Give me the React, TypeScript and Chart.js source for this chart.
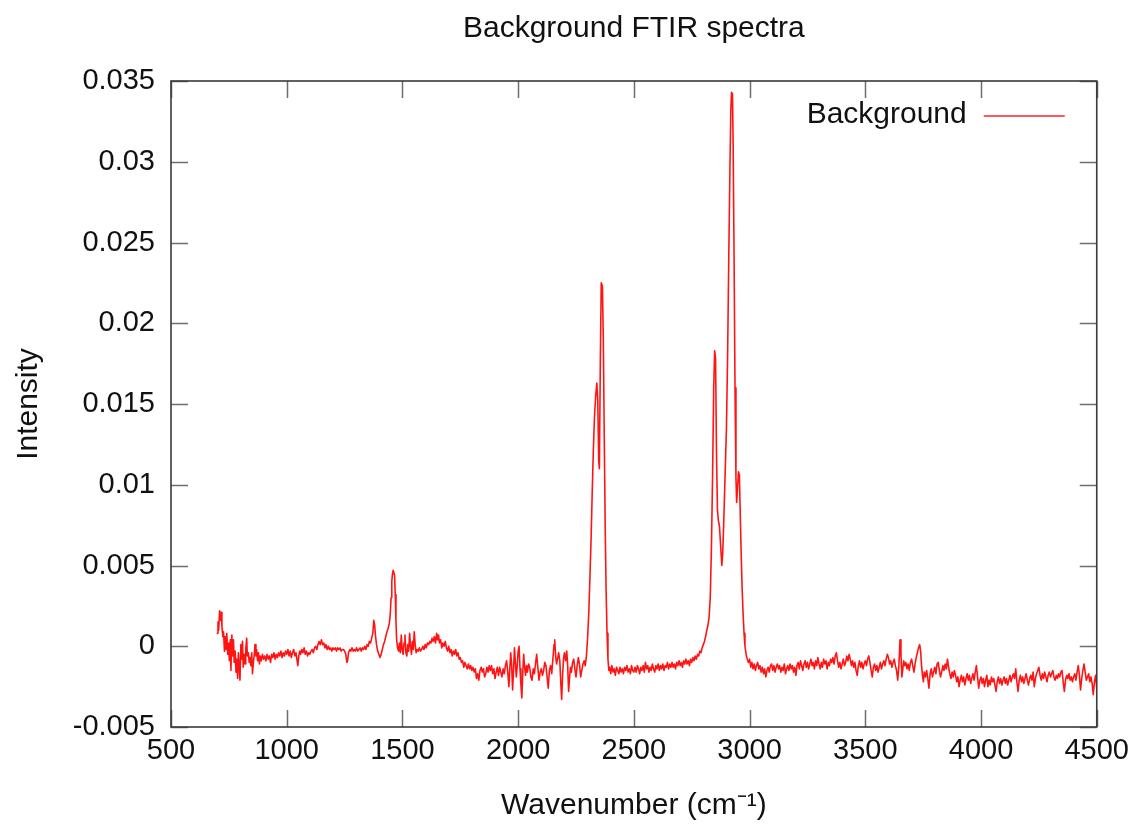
import { useEffect, useRef } from 'react';
import { Chart, registerables } from 'chart.js';

Chart.register(...registerables);

const chartTitle = 'Background FTIR spectra';
const seriesLabel = 'Background';
const xAxisTitle = 'Wavenumber (cm⁻¹)';
const yAxisTitle = 'Intensity';

const xTickValues = [500, 1000, 1500, 2000, 2500, 3000, 3500, 4000, 4500];
const yTickValues = [-0.005, 0, 0.005, 0.01, 0.015, 0.02, 0.025, 0.03, 0.035];
const yTickLabels = ['-0.005', '0', '0.005', '0.01', '0.015', '0.02', '0.025', '0.03', '0.035'];

// [wavenumber (cm-1), intensity]
const backgroundSpectrum: [number, number][] = [
  [700, 0.0008], [703, 0.0015], [706, 0.001], [710, 0.0022], [713, 0.0016], [717, 0.0021], [720, 0.0012],
  [724, 0.0006], [727, 0.0009], [731, -0.0003], [734, 0.0006], [738, -0.0002], [741, 0.0008], [745, -0.0005],
  [749, 0.0002], [752, -0.0009], [756, 0.0004], [759, -0.0015], [763, 0.0007], [766, -0.0006], [770, 0.0004],
  [773, -0.001], [777, -0.0003], [781, -0.0016], [784, -0.0008], [788, -0.002], [791, -0.0004], [795, -0.0013],
  [798, -0.0021], [802, 0.0001], [805, -0.0008], [809, 0.0003], [812, -0.0013], [816, -0.0005], [820, -0.0011],
  [823, -0.0002], [827, 0.0005], [830, -0.0006], [834, -0.0004], [838, -0.001], [841, -0.0007], [845, -0.0012],
  [849, -0.0004], [852, -0.0017], [856, -0.001], [860, -0.0005], [863, 0.0001], [867, -0.0006], [870, -0.0002],
  [874, -0.0009], [878, -0.0004], [882, -0.0011], [886, -0.0006], [890, -0.0009], [895, -0.0005], [900, -0.0008],
  [905, -0.0006], [910, -0.0009], [915, -0.0005], [920, -0.0008], [925, -0.0006], [930, -0.001], [935, -0.0005],
  [940, -0.0007], [945, -0.0004], [950, -0.0008], [955, -0.0005], [960, -0.0007], [965, -0.0004], [970, -0.0006],
  [975, -0.0003], [980, -0.0007], [985, -0.0004], [990, -0.0006], [995, -0.0003], [1000, -0.0005], [1005, -0.0002],
  [1010, -0.0006], [1015, -0.0003], [1020, -0.0007], [1025, -0.0004], [1030, -0.0002], [1035, -0.0006], [1040, -0.0004],
  [1045, -0.0009], [1048, -0.0012], [1052, -0.0006], [1056, -0.0003], [1060, -0.0005], [1065, -0.0002], [1070, -0.0004],
  [1075, -0.0001], [1080, -0.0005], [1085, -0.0003], [1090, -0.0006], [1095, -0.0004], [1100, -0.0005], [1105, -0.0003],
  [1110, -0.0002], [1115, -0.0004], [1120, -0.0001], [1125, 0.0], [1130, -0.0002], [1135, 0.0001], [1140, 0.0003],
  [1145, 0.0001], [1150, 0.0004], [1155, 0.0001], [1160, 0.0002], [1165, -0.0001], [1170, 0.0001], [1175, -0.0002],
  [1180, 0.0], [1185, -0.0002], [1190, -0.0001], [1195, -0.0003], [1200, -0.0001], [1205, -0.0002], [1210, -0.0001],
  [1215, -0.0003], [1220, -0.0001], [1225, -0.0002], [1230, -0.0001], [1235, -0.0003], [1240, -0.0002], [1245, -0.0002],
  [1250, -0.0003], [1255, -0.0005], [1260, -0.001], [1263, -0.0009], [1267, -0.0004], [1272, -0.0002], [1277, -0.0003],
  [1282, -0.0001], [1287, -0.0003], [1292, -0.0002], [1297, -0.0003], [1302, -0.0001], [1307, -0.0003], [1312, -0.0002],
  [1317, -0.0001], [1322, -0.0003], [1327, -0.0001], [1332, -0.0002], [1337, 0.0], [1342, -0.0002], [1347, 0.0001],
  [1352, 0.0], [1357, 0.0003], [1362, 0.0002], [1367, 0.0005], [1372, 0.0008], [1376, 0.0016], [1380, 0.0013],
  [1384, 0.0006], [1388, 0.0001], [1393, -0.0003], [1398, -0.0005], [1403, -0.0007], [1408, -0.0005], [1413, -0.0002],
  [1418, 0.0001], [1423, 0.0003], [1428, 0.0006], [1433, 0.0009], [1438, 0.0011], [1443, 0.0014], [1447, 0.0019],
  [1451, 0.003], [1454, 0.004], [1457, 0.0045], [1460, 0.0047], [1463, 0.0047], [1466, 0.0044], [1469, 0.0032],
  [1472, 0.0016], [1475, 0.0004], [1479, -0.0001], [1483, -0.0003], [1487, 0.0002], [1491, -0.0004], [1495, 0.0007],
  [1499, -0.0002], [1503, -0.0005], [1507, 0.0002], [1511, 0.0007], [1515, -0.0004], [1519, -0.0006], [1523, 0.0001],
  [1527, -0.0003], [1531, 0.0008], [1535, 0.0], [1539, -0.0005], [1543, 0.0003], [1547, -0.0002], [1551, 0.0009],
  [1555, 0.0001], [1559, -0.0004], [1563, -0.0002], [1568, -0.0003], [1573, -0.0001], [1578, -0.0003], [1583, -0.0002],
  [1588, 0.0], [1593, -0.0002], [1598, 0.0001], [1603, -0.0001], [1608, 0.0002], [1613, 0.0001], [1618, 0.0003],
  [1623, 0.0002], [1628, 0.0005], [1633, 0.0003], [1638, 0.0006], [1643, 0.0002], [1648, 0.0008], [1652, 0.0004],
  [1656, 0.0007], [1660, 0.0002], [1665, 0.0004], [1670, -0.0001], [1675, 0.0002], [1680, 0.0], [1685, 0.0003],
  [1690, -0.0001], [1695, -0.0003], [1700, 0.0], [1705, -0.0004], [1710, -0.0002], [1715, -0.0006], [1720, -0.0003],
  [1725, -0.0005], [1730, -0.0002], [1735, -0.0006], [1740, -0.0004], [1745, -0.0008], [1750, -0.0007], [1755, -0.001],
  [1760, -0.0009], [1765, -0.0013], [1770, -0.001], [1775, -0.0012], [1780, -0.0014], [1785, -0.0011], [1790, -0.0014],
  [1795, -0.0012], [1800, -0.0015], [1805, -0.0013], [1810, -0.0016], [1815, -0.0014], [1820, -0.002], [1825, -0.0017],
  [1830, -0.0021], [1835, -0.0015], [1840, -0.0013], [1845, -0.0016], [1850, -0.0014], [1855, -0.0019], [1860, -0.0017],
  [1865, -0.0013], [1870, -0.0016], [1875, -0.0012], [1880, -0.0015], [1885, -0.0012], [1890, -0.0017], [1895, -0.0014],
  [1900, -0.002], [1905, -0.0016], [1910, -0.0013], [1915, -0.0018], [1920, -0.0013], [1925, -0.0016], [1930, -0.0019],
  [1935, -0.0014], [1940, -0.0017], [1945, -0.0012], [1950, -0.0009], [1955, -0.0016], [1960, -0.0025], [1964, -0.0014],
  [1968, -0.0004], [1972, -0.0012], [1976, -0.0027], [1980, -0.0015], [1984, -0.0001], [1988, -0.001], [1992, -0.0019],
  [1996, -0.0012], [2000, -0.0003], [2004, 0.0], [2008, -0.0014], [2012, -0.0024], [2016, -0.0032], [2020, -0.0016],
  [2024, -0.0005], [2028, -0.0013], [2032, -0.0018], [2036, -0.0012], [2040, -0.0016], [2045, -0.0011], [2050, -0.0013],
  [2055, -0.0019], [2060, -0.0021], [2065, -0.0014], [2070, -0.0017], [2075, -0.0011], [2080, -0.0005], [2085, -0.0013],
  [2090, -0.0021], [2095, -0.0016], [2100, -0.0014], [2105, -0.0018], [2110, -0.0015], [2115, -0.001], [2120, -0.0012],
  [2125, -0.0019], [2130, -0.0026], [2135, -0.0015], [2140, -0.0012], [2145, -0.0017], [2150, -0.0008], [2155, 0.0001],
  [2158, 0.0004], [2162, -0.0006], [2166, -0.0011], [2170, -0.0008], [2175, -0.0004], [2180, -0.0009], [2184, -0.0022],
  [2188, -0.0033], [2192, -0.0018], [2196, -0.0008], [2200, -0.0004], [2205, -0.0009], [2210, -0.0003], [2214, -0.0012],
  [2218, -0.0028], [2222, -0.002], [2226, -0.0013], [2230, -0.0016], [2235, -0.001], [2240, -0.0008], [2245, -0.0014],
  [2250, -0.0019], [2255, -0.0012], [2260, -0.0007], [2265, -0.0011], [2270, -0.0019], [2275, -0.0015], [2280, -0.0011],
  [2285, -0.0009], [2290, -0.0012], [2295, -0.0006], [2300, 0.0005], [2305, 0.002], [2310, 0.0042], [2315, 0.0066],
  [2320, 0.0095], [2325, 0.0122], [2330, 0.0143], [2335, 0.0155], [2340, 0.0163], [2344, 0.0152], [2348, 0.0115],
  [2351, 0.011], [2355, 0.0175], [2359, 0.0225], [2364, 0.0223], [2368, 0.019], [2372, 0.013], [2376, 0.0075],
  [2380, 0.0035], [2384, 0.0008], [2388, -0.0008], [2392, -0.0015], [2396, -0.0013], [2400, -0.0017], [2405, -0.0012],
  [2410, -0.0016], [2415, -0.0014], [2420, -0.0018], [2425, -0.0013], [2430, -0.0015], [2435, -0.0017], [2440, -0.0013],
  [2445, -0.0016], [2450, -0.0014], [2455, -0.0017], [2460, -0.0013], [2465, -0.0015], [2470, -0.0012], [2475, -0.0016],
  [2480, -0.0014], [2485, -0.0017], [2490, -0.0012], [2495, -0.0015], [2500, -0.0016], [2505, -0.0013], [2510, -0.0016],
  [2515, -0.0012], [2520, -0.0014], [2525, -0.0017], [2530, -0.0013], [2535, -0.0015], [2540, -0.0012], [2545, -0.0016],
  [2550, -0.001], [2555, -0.0014], [2560, -0.0012], [2565, -0.0016], [2570, -0.0013], [2575, -0.0015], [2580, -0.0011],
  [2585, -0.0014], [2590, -0.0016], [2595, -0.0012], [2600, -0.0014], [2605, -0.0011], [2610, -0.0015], [2615, -0.0012],
  [2620, -0.0014], [2625, -0.0011], [2630, -0.0015], [2635, -0.0012], [2640, -0.0013], [2645, -0.001], [2650, -0.0014],
  [2655, -0.0011], [2660, -0.0013], [2665, -0.001], [2670, -0.0013], [2675, -0.0011], [2680, -0.0014], [2685, -0.001],
  [2690, -0.0012], [2695, -0.0009], [2700, -0.0012], [2705, -0.001], [2710, -0.0013], [2715, -0.0009], [2720, -0.0011],
  [2725, -0.0008], [2730, -0.0011], [2735, -0.0009], [2740, -0.0012], [2745, -0.0008], [2750, -0.001], [2755, -0.0007],
  [2760, -0.0009], [2765, -0.0006], [2770, -0.0008], [2775, -0.0005], [2780, -0.0006], [2785, -0.0003], [2790, -0.0004],
  [2795, -0.0001], [2800, 0.0001], [2805, 0.0003], [2810, 0.0006], [2815, 0.001], [2820, 0.0013], [2825, 0.0018],
  [2830, 0.003], [2835, 0.006], [2840, 0.0105], [2845, 0.016], [2849, 0.0183], [2853, 0.0178], [2857, 0.012],
  [2861, 0.0085], [2865, 0.0078], [2870, 0.0074], [2875, 0.0062], [2880, 0.005], [2884, 0.0058], [2888, 0.0075],
  [2892, 0.0095], [2896, 0.0115], [2900, 0.0135], [2905, 0.018], [2910, 0.024], [2915, 0.0295], [2919, 0.0332],
  [2922, 0.0343], [2926, 0.0342], [2929, 0.031], [2933, 0.024], [2937, 0.016], [2941, 0.0105], [2944, 0.0089],
  [2948, 0.0098], [2952, 0.0108], [2956, 0.0106], [2960, 0.008], [2964, 0.0055], [2968, 0.0035], [2972, 0.002],
  [2976, 0.0008], [2980, 0.0], [2985, -0.0005], [2990, -0.0008], [2995, -0.001], [3000, -0.0008], [3005, -0.0013],
  [3010, -0.001], [3015, -0.0014], [3020, -0.0011], [3025, -0.0015], [3030, -0.0012], [3035, -0.001], [3040, -0.0014],
  [3045, -0.0012], [3050, -0.0016], [3055, -0.0013], [3060, -0.0017], [3065, -0.0014], [3070, -0.0019], [3075, -0.0015],
  [3080, -0.0013], [3085, -0.0016], [3090, -0.0012], [3095, -0.0011], [3100, -0.0015], [3105, -0.0012], [3110, -0.0016],
  [3115, -0.0013], [3120, -0.0011], [3125, -0.0014], [3130, -0.0012], [3135, -0.0016], [3140, -0.0013], [3145, -0.0015],
  [3150, -0.0011], [3155, -0.0017], [3160, -0.0014], [3165, -0.0012], [3170, -0.0015], [3175, -0.0011], [3180, -0.0014],
  [3185, -0.0012], [3190, -0.0016], [3195, -0.0013], [3200, -0.0018], [3205, -0.0012], [3210, -0.001], [3215, -0.0014],
  [3220, -0.0009], [3225, -0.0012], [3230, -0.0015], [3235, -0.0011], [3240, -0.0009], [3245, -0.0013], [3250, -0.001],
  [3255, -0.0014], [3260, -0.0011], [3265, -0.0008], [3270, -0.0012], [3275, -0.001], [3280, -0.0014], [3285, -0.0009],
  [3290, -0.0012], [3295, -0.0007], [3300, -0.0011], [3305, -0.0014], [3310, -0.001], [3315, -0.0013], [3320, -0.0008],
  [3325, -0.0011], [3330, -0.0009], [3335, -0.0014], [3340, -0.001], [3345, -0.0012], [3350, -0.0008], [3355, -0.001],
  [3360, -0.0007], [3365, -0.0011], [3370, -0.0006], [3375, -0.0004], [3380, -0.0009], [3385, -0.0013], [3390, -0.001],
  [3395, -0.0014], [3400, -0.0011], [3405, -0.0008], [3410, -0.0012], [3415, -0.001], [3420, -0.0006], [3425, -0.0009],
  [3430, -0.0005], [3435, -0.0008], [3440, -0.0012], [3445, -0.0009], [3450, -0.0013], [3455, -0.001], [3460, -0.0015],
  [3465, -0.0018], [3470, -0.0012], [3475, -0.0009], [3480, -0.0013], [3485, -0.001], [3490, -0.0014], [3495, -0.0011],
  [3500, -0.0009], [3505, -0.0012], [3510, -0.0008], [3515, -0.0006], [3520, -0.001], [3525, -0.0015], [3530, -0.0019],
  [3535, -0.0013], [3540, -0.0011], [3545, -0.0015], [3550, -0.0012], [3555, -0.0016], [3560, -0.0013], [3565, -0.001],
  [3570, -0.0014], [3575, -0.0011], [3580, -0.0009], [3585, -0.0012], [3590, -0.0008], [3595, -0.0005], [3600, -0.0007],
  [3605, -0.0011], [3610, -0.0009], [3615, -0.0013], [3620, -0.001], [3625, -0.0008], [3630, -0.0012], [3635, -0.0015],
  [3640, -0.0021], [3645, -0.0012], [3650, 0.0004], [3654, -0.0005], [3658, -0.0019], [3662, -0.0014], [3666, -0.0009],
  [3670, -0.0012], [3675, -0.001], [3680, -0.0014], [3685, -0.0011], [3690, -0.0015], [3695, -0.001], [3700, -0.0008],
  [3705, -0.0012], [3710, -0.0016], [3715, -0.0011], [3720, -0.0007], [3725, -0.0004], [3730, -0.0001], [3735, 0.0001],
  [3739, -0.0003], [3743, -0.0012], [3747, -0.0018], [3751, -0.0022], [3755, -0.0016], [3760, -0.0019], [3765, -0.0015],
  [3770, -0.002], [3775, -0.0026], [3780, -0.0017], [3785, -0.0014], [3790, -0.0019], [3795, -0.0016], [3800, -0.0013],
  [3805, -0.0017], [3810, -0.0011], [3815, -0.001], [3820, -0.0015], [3825, -0.0019], [3830, -0.0016], [3835, -0.0012],
  [3840, -0.0015], [3845, -0.0011], [3850, -0.0014], [3855, -0.0008], [3860, -0.0013], [3865, -0.0017], [3870, -0.002],
  [3875, -0.0016], [3880, -0.0019], [3885, -0.0015], [3890, -0.0018], [3895, -0.0022], [3900, -0.0019], [3905, -0.0025],
  [3910, -0.0021], [3915, -0.0018], [3920, -0.0022], [3925, -0.0019], [3930, -0.0024], [3935, -0.002], [3940, -0.0017],
  [3945, -0.0021], [3950, -0.0018], [3955, -0.0023], [3960, -0.002], [3965, -0.0017], [3970, -0.0021], [3975, -0.0016],
  [3980, -0.0012], [3985, -0.0019], [3990, -0.0026], [3995, -0.0021], [4000, -0.0019], [4005, -0.0023], [4010, -0.002],
  [4015, -0.0025], [4020, -0.0021], [4025, -0.0018], [4030, -0.0025], [4035, -0.0021], [4040, -0.0024], [4045, -0.0019],
  [4050, -0.0022], [4055, -0.002], [4060, -0.0024], [4065, -0.0028], [4070, -0.0022], [4075, -0.0019], [4080, -0.0023],
  [4085, -0.002], [4090, -0.0024], [4095, -0.0021], [4100, -0.0019], [4105, -0.0023], [4110, -0.002], [4115, -0.0024],
  [4120, -0.0021], [4125, -0.0018], [4130, -0.0022], [4135, -0.0019], [4140, -0.0017], [4145, -0.002], [4150, -0.0014],
  [4155, -0.0022], [4160, -0.0028], [4165, -0.0021], [4170, -0.0018], [4175, -0.0022], [4180, -0.0019], [4185, -0.0023],
  [4190, -0.002], [4195, -0.0017], [4200, -0.0021], [4205, -0.0024], [4210, -0.002], [4215, -0.0018], [4220, -0.0021],
  [4225, -0.0016], [4230, -0.0025], [4235, -0.002], [4240, -0.0017], [4245, -0.0015], [4250, -0.0013], [4255, -0.0018],
  [4260, -0.0021], [4265, -0.0017], [4270, -0.002], [4275, -0.0016], [4280, -0.0019], [4285, -0.0022], [4290, -0.0018],
  [4295, -0.0016], [4300, -0.0019], [4305, -0.0017], [4310, -0.0015], [4315, -0.0019], [4320, -0.0021], [4325, -0.0018],
  [4330, -0.002], [4335, -0.0017], [4340, -0.0019], [4345, -0.0016], [4350, -0.0015], [4355, -0.0022], [4360, -0.0028],
  [4365, -0.0021], [4370, -0.0018], [4375, -0.002], [4380, -0.0017], [4385, -0.0021], [4390, -0.0019], [4395, -0.0022],
  [4400, -0.0019], [4405, -0.0017], [4410, -0.0021], [4415, -0.0016], [4420, -0.0012], [4425, -0.0018], [4430, -0.0027],
  [4435, -0.002], [4440, -0.0015], [4445, -0.0011], [4450, -0.0016], [4455, -0.0021], [4460, -0.0019], [4465, -0.0017],
  [4470, -0.0022], [4475, -0.0019], [4480, -0.0023], [4485, -0.003], [4490, -0.0022], [4495, -0.0018], [4500, -0.0026],
];

const FONT_FAMILY = '"Liberation Sans", Arial, Helvetica, sans-serif';
const TICK_LEN = 17;

const framePlugin = {
  id: 'gnuplotFrame',
  afterDraw(chart: any) {
    const { ctx, chartArea, scales } = chart;
    const { left, right, top, bottom } = chartArea;
    const xs = scales.x;
    const ys = scales.y;
    ctx.save();
    ctx.strokeStyle = '#6e6e6e';
    ctx.lineWidth = 1.5;
    ctx.beginPath();
    xTickValues.forEach((v) => {
      const px = Math.round(xs.getPixelForValue(v)) + 0.5;
      ctx.moveTo(px, bottom);
      ctx.lineTo(px, bottom - TICK_LEN);
      ctx.moveTo(px, top);
      ctx.lineTo(px, top + TICK_LEN);
    });
    yTickValues.forEach((v) => {
      const py = Math.round(ys.getPixelForValue(v)) + 0.5;
      ctx.moveTo(left, py);
      ctx.lineTo(left + TICK_LEN, py);
      ctx.moveTo(right, py);
      ctx.lineTo(right - TICK_LEN, py);
    });
    ctx.stroke();
    ctx.strokeStyle = '#3a3a3a';
    ctx.lineWidth = 1.6;
    ctx.strokeRect(left, top, right - left, bottom - top);

    // key (legend), gnuplot style: text right-aligned, sample line to its right
    const keyY = top + 34;
    ctx.font = `30px ${FONT_FAMILY}`;
    ctx.fillStyle = '#111';
    ctx.textAlign = 'right';
    ctx.textBaseline = 'middle';
    ctx.fillText(seriesLabel, right - 130, keyY);
    ctx.strokeStyle = 'rgba(255, 60, 60, 0.85)';
    ctx.lineWidth = 2.2;
    ctx.beginPath();
    ctx.moveTo(right - 113, keyY + 1);
    ctx.lineTo(right - 32, keyY + 1);
    ctx.stroke();
    ctx.restore();
  },
};

export default function App() {
  const canvasRef = useRef<HTMLCanvasElement | null>(null);

  useEffect(() => {
    if (!canvasRef.current) return;
    const chart = new Chart(canvasRef.current, {
      type: 'line',
      data: {
        datasets: [
          {
            label: seriesLabel,
            data: backgroundSpectrum.map(([x, y]) => ({ x, y })),
            borderColor: 'rgba(255, 0, 0, 0.92)',
            borderWidth: 1.6,
            borderJoinStyle: 'round',
            borderCapStyle: 'round',
            pointRadius: 0,
            tension: 0,
            fill: false,
          },
        ],
      },
      options: {
        animation: false,
        responsive: false,
        devicePixelRatio: 1,
        layout: { padding: { left: 0, right: 39, top: 0, bottom: 0 } },
        plugins: {
          legend: { display: false },
          tooltip: { enabled: false },
          title: {
            display: true,
            fullSize: false,
            text: chartTitle,
            color: '#111',
            font: { family: FONT_FAMILY, size: 30, weight: 'normal' },
            padding: { top: 11, bottom: 34 },
          },
        },
        scales: {
          x: {
            type: 'linear',
            min: 500,
            max: 4500,
            afterBuildTicks: (scale: any) => {
              scale.ticks = xTickValues.map((value) => ({ value }));
            },
            afterFit: (scale: any) => {
              scale.height = 102;
            },
            grid: { display: false, drawTicks: false },
            border: { display: false },
            ticks: {
              color: '#111',
              padding: 7,
              maxRotation: 0,
              autoSkip: false,
              font: { family: FONT_FAMILY, size: 29 },
              callback: (value: any) => String(value),
            },
            title: {
              display: true,
              text: xAxisTitle,
              color: '#111',
              font: { family: FONT_FAMILY, size: 30 },
              padding: { top: 0, bottom: 5 },
            },
          },
          y: {
            type: 'linear',
            min: -0.005,
            max: 0.035,
            afterBuildTicks: (scale: any) => {
              scale.ticks = yTickValues.map((value) => ({ value }));
            },
            afterFit: (scale: any) => {
              scale.width = 171;
            },
            grid: { display: false, drawTicks: false },
            border: { display: false },
            ticks: {
              color: '#111',
              padding: 16,
              autoSkip: false,
              font: { family: FONT_FAMILY, size: 29 },
              callback: (_value: any, index: number) => yTickLabels[index],
            },
            title: {
              display: true,
              text: yAxisTitle,
              color: '#111',
              font: { family: FONT_FAMILY, size: 30 },
              padding: { top: 11, bottom: 0 },
            },
          },
        },
      },
      plugins: [framePlugin],
    });
    return () => chart.destroy();
  }, []);

  return (
    <div style={{ position: 'fixed', left: 0, top: 0, width: 1136, height: 829, background: '#fff' }}>
      <canvas ref={canvasRef} width={1136} height={829} />
    </div>
  );
}
